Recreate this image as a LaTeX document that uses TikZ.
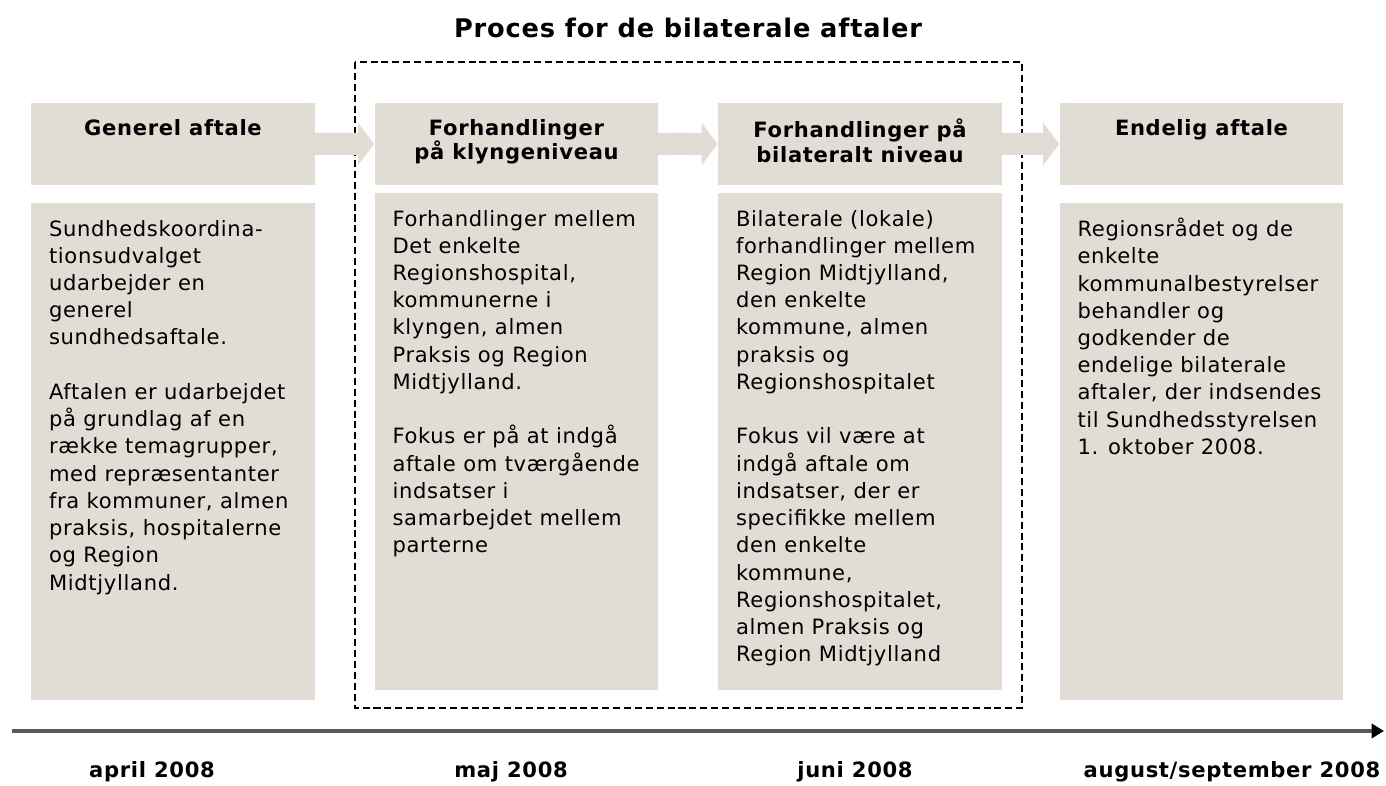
\documentclass[tikz,border=0pt]{standalone}
\usepackage{fontspec}
\setmainfont{DejaVu Sans}[LetterSpace=3.2]
\usetikzlibrary{calc,arrows.meta}
\definecolor{boxfill}{HTML}{E1DDD4}
\definecolor{axisgray}{HTML}{5A5A5A}
\tikzset{
  box/.style={fill=boxfill, inner sep=0pt, minimum width=5.68cm},
  headbox/.style={box, minimum height=1.64cm},
  bodybox/.style={box, minimum height=9.94cm},
  headtext/.style={anchor=north, align=center, inner sep=0pt, font=\fontsize{12}{14.2}\selectfont\bfseries},
  bodytext/.style={anchor=north west, align=left, inner sep=0pt, font=\fontsize{12}{15.5}\selectfont},
  datelabel/.style={font=\fontsize{12}{13}\selectfont\bfseries},
  fence/.style={draw, dash pattern=on 4pt off 2.2pt, line width=0.8pt},
}
\begin{document}
\begin{tikzpicture}[x=0.02cm,y=-0.02cm]
    \useasboundingbox (0,0) rectangle (1386,786);

    \node (title) at (688,28) {\fontsize{14.6}{16}\selectfont\bfseries Proces for de bilaterale aftaler};

    % dashed frame round the two negotiation steps
    \draw[fence] (355,62) rectangle (1022,708);

    % headers
    \node[headbox] (hA) at (173,144) {};
    \node[headbox] (hB) at (516.5,144) {};
    \node[headbox] (hC) at (860,144) {};
    \node[headbox] (hD) at (1201.5,144) {};

    \node[headtext] (hAt) at ($(hA.north)+(0,16)$) {Generel aftale};
    \node[headtext] (hBt) at ($(hB.north)+(0,16)$) {Forhandlinger\\på klyngeniveau};
    \node[headtext] (hCt) at ($(hC.north)+(0,16)$) {Forhandlinger på\\bilateralt niveau};
    \node[headtext] (hDt) at ($(hD.north)+(0,16)$) {Endelig aftale};

    % block arrows between the headers
    \fill[boxfill] ($(hA.east)+(-1,-11)$) -- ($(hB.west)+(-16,-11)$) -- ($(hB.west)+(-16,-21)$) -- (hB.west)
        -- ($(hB.west)+(-16,21)$) -- ($(hB.west)+(-16,11)$) -- ($(hA.east)+(-1,11)$) -- cycle;
    \fill[boxfill] ($(hB.east)+(-1,-11)$) -- ($(hC.west)+(-16,-11)$) -- ($(hC.west)+(-16,-21)$) -- (hC.west)
        -- ($(hC.west)+(-16,21)$) -- ($(hC.west)+(-16,11)$) -- ($(hB.east)+(-1,11)$) -- cycle;
    \fill[boxfill] ($(hC.east)+(-1,-11)$) -- ($(hD.west)+(-16,-11)$) -- ($(hD.west)+(-16,-21)$) -- (hD.west)
        -- ($(hD.west)+(-16,21)$) -- ($(hD.west)+(-16,11)$) -- ($(hC.east)+(-1,11)$) -- cycle;

    % bodies
    \node[bodybox] (bA) at (173,451.5) {};
    \node[bodybox] (bB) at (516.5,441.5) {};
    \node[bodybox] (bC) at (860,441.5) {};
    \node[bodybox] (bD) at (1201.5,451.5) {};

    \node[bodytext] (bAt) at ($(bA.north west)+(18,17)$) {Sundhedskoordina-\\tionsudvalget\\udarbejder en\\generel\\sundhedsaftale.\\[15.5pt]
        Aftalen er udarbejdet\\på grundlag af en\\række temagrupper,\\med repræsentanter\\fra kommuner, almen\\praksis, hospitalerne\\og Region\\Midtjylland.};
    \node[bodytext] (bBt) at ($(bB.north west)+(18,17)$) {Forhandlinger mellem\\Det enkelte\\Regionshospital,\\kommunerne i\\klyngen, almen\\Praksis og Region\\Midtjylland.\\[15.5pt]
        Fokus er på at indgå\\aftale om tværgående\\indsatser i\\samarbejdet mellem\\parterne};
    \node[bodytext] (bCt) at ($(bC.north west)+(18,17)$) {Bilaterale (lokale)\\forhandlinger mellem\\Region Midtjylland,\\den enkelte\\kommune, almen\\praksis og\\Regionshospitalet\\[15.5pt]
        Fokus vil være at\\indgå aftale om\\indsatser, der er\\specifikke mellem\\den enkelte\\kommune,\\Regionshospitalet,\\almen Praksis og\\Region Midtjylland};
    \node[bodytext] (bDt) at ($(bD.north west)+(18,15)$) {Regionsrådet og de\\enkelte\\kommunalbestyrelser\\behandler og\\godkender de\\endelige bilaterale\\aftaler, der indsendes\\til Sundhedsstyrelsen\\1. oktober 2008.};

    % time axis
    \coordinate (t0) at (12,731);
    \coordinate (t1) at (1384,731);
    \draw[axisgray, line width=1.8pt, -{Triangle[length=7pt,width=8pt,color=black]}] (t0) -- (t1);

    \node[datelabel] (dA) at (152,772) {april 2008};
    \node[datelabel] (dB) at (511,772) {maj 2008};
    \node[datelabel] (dC) at (855,772) {juni 2008};
    \node[datelabel] (dD) at (1232,772) {august/september 2008};

\end{tikzpicture}
\end{document}
